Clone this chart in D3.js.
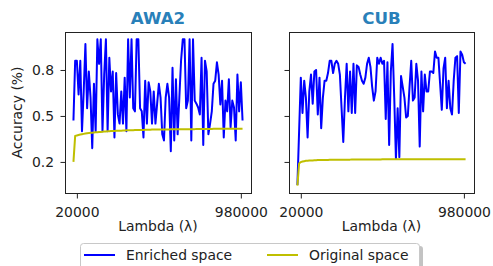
<!DOCTYPE html>
<html>
<head>
<meta charset="utf-8">
<script src="https://cdn.jsdelivr.net/npm/d3@7"></script>
<style>
  body { margin: 0; background: #fff; }
  svg { display: block; }
  text { font-family: "DejaVu Sans", sans-serif; fill: #222; }
</style>
</head>
<body>
<div id="chart"></div>
<script>
// lambda values on the x axis
const lambdas = [
    0, 10000, 20000, 30000, 40000, 50000, 60000, 70000, 80000, 90000,
    100000, 110000, 120000, 130000, 140000, 150000, 160000, 170000, 180000, 190000,
    200000, 210000, 220000, 230000, 240000, 250000, 260000, 270000, 280000, 290000,
    300000, 310000, 320000, 330000, 340000, 350000, 360000, 370000, 380000, 390000,
    400000, 410000, 420000, 430000, 440000, 450000, 460000, 470000, 480000, 490000,
    500000, 510000, 520000, 530000, 540000, 550000, 560000, 570000, 580000, 590000,
    600000, 610000, 620000, 630000, 640000, 650000, 660000, 670000, 680000, 690000,
    700000, 710000, 720000, 730000, 740000, 750000, 760000, 770000, 780000, 790000,
    800000, 810000, 820000, 830000, 840000, 850000, 860000, 870000, 880000, 890000,
    900000, 910000, 920000, 930000, 940000, 950000, 960000, 970000, 980000, 990000
];

const awa2Enriched = [
    0.47, 0.86, 0.86, 0.64, 0.86, 0.40, 0.66, 0.97, 0.55, 0.79,
    0.62, 0.29, 0.71, 0.40, 1.00, 0.84, 1.00, 0.40, 0.77, 1.00,
    0.40, 0.88, 0.66, 0.79, 0.36, 0.78, 0.51, 0.45, 0.66, 0.45,
    0.75, 0.40, 1.00, 0.62, 1.00, 0.55, 0.53, 1.00, 1.00, 0.55,
    0.53, 0.36, 0.73, 0.45, 0.72, 0.66, 0.45, 0.66, 0.45, 0.58,
    0.71, 0.62, 0.38, 0.34, 0.62, 0.71, 0.62, 0.27, 0.815, 0.34,
    0.74, 0.38, 0.62, 0.86, 1.00, 1.00, 0.55, 0.60, 1.00, 0.34,
    1.00, 0.60, 0.58, 0.555, 0.51, 0.88, 0.31, 0.86, 0.79, 0.38,
    0.45, 0.53, 0.71, 0.73, 0.85, 0.77, 0.575, 0.73, 0.36, 0.60,
    0.53, 0.74, 0.425, 0.60, 0.555, 0.34, 0.77, 0.53, 0.72, 0.47
];

const awa2Original = [
    0.200, 0.370, 0.373, 0.376, 0.379, 0.381, 0.383, 0.385, 0.387, 0.388,
    0.390, 0.391, 0.392, 0.393, 0.394, 0.395, 0.396, 0.397, 0.398, 0.399,
    0.400, 0.400, 0.401, 0.402, 0.402, 0.403, 0.403, 0.404, 0.404, 0.405,
    0.405, 0.406, 0.406, 0.407, 0.407, 0.407, 0.408, 0.408, 0.408, 0.409,
    0.409, 0.409, 0.410, 0.410, 0.410, 0.410, 0.411, 0.411, 0.411, 0.411,
    0.411, 0.412, 0.412, 0.412, 0.412, 0.412, 0.412, 0.413, 0.413, 0.413,
    0.413, 0.413, 0.413, 0.413, 0.414, 0.414, 0.414, 0.414, 0.414, 0.414,
    0.414, 0.414, 0.415, 0.415, 0.415, 0.415, 0.415, 0.415, 0.415, 0.415,
    0.415, 0.415, 0.416, 0.416, 0.416, 0.416, 0.416, 0.416, 0.416, 0.416,
    0.416, 0.416, 0.416, 0.417, 0.417, 0.417, 0.417, 0.417, 0.417, 0.417
];

const cubEnriched = [
    0.05, 0.40, 0.75, 0.52, 0.73, 0.62, 0.36, 0.66, 0.77, 0.58,
    0.79, 0.80, 0.51, 0.75, 0.42, 0.62, 0.73, 0.73, 0.78, 0.86,
    0.86, 0.78, 0.84, 0.86, 0.84, 0.77, 0.55, 0.33, 0.62, 0.84,
    0.53, 0.79, 0.52, 0.84, 0.52, 0.83, 0.82, 0.77, 0.73, 0.71,
    0.75, 0.84, 0.88, 0.82, 0.69, 0.60, 0.66, 0.88, 0.84, 0.88,
    0.84, 0.86, 0.48, 0.85, 0.31, 0.79, 0.97, 0.62, 0.22, 0.55,
    0.23, 0.76, 0.69, 0.62, 0.49, 0.50, 0.69, 0.86, 0.60, 0.62,
    0.84, 0.73, 0.30, 0.79, 0.53, 0.77, 0.66, 0.66, 0.79, 0.79,
    0.78, 0.92, 0.88, 0.88, 0.71, 0.54, 0.81, 0.88, 0.55, 0.73,
    0.55, 0.51, 0.73, 0.88, 0.89, 0.52, 0.92, 0.90, 0.85, 0.84
];

const cubOriginal = [
    0.045, 0.190, 0.199, 0.203, 0.205, 0.207, 0.208, 0.209, 0.210, 0.210,
    0.211, 0.211, 0.212, 0.212, 0.212, 0.213, 0.213, 0.213, 0.213, 0.214,
    0.214, 0.214, 0.214, 0.214, 0.215, 0.215, 0.215, 0.215, 0.215, 0.215,
    0.215, 0.215, 0.216, 0.216, 0.216, 0.216, 0.216, 0.216, 0.216, 0.216,
    0.216, 0.216, 0.216, 0.216, 0.216, 0.216, 0.216, 0.216, 0.216, 0.216,
    0.217, 0.217, 0.217, 0.217, 0.217, 0.217, 0.217, 0.217, 0.217, 0.217,
    0.217, 0.217, 0.217, 0.217, 0.217, 0.217, 0.217, 0.217, 0.217, 0.217,
    0.217, 0.217, 0.217, 0.217, 0.217, 0.217, 0.217, 0.217, 0.217, 0.217,
    0.217, 0.217, 0.217, 0.217, 0.217, 0.217, 0.217, 0.217, 0.217, 0.217,
    0.217, 0.217, 0.217, 0.217, 0.217, 0.217, 0.217, 0.217, 0.217, 0.217
];

const datasets = ["AWA2", "CUB"];
const seriesNames = ["Enriched space", "Original space"];
const xTicks = [20000, 980000];
const yTicks = [0.2, 0.5, 0.8];

function drawChart() {
    var width = 493, height = 266;
    var top = 32, bottom = 193;
    var colors = ["#0000ff", "#bfbf00"];
    var panels = [
        { left: 65, right: 251, series: [awa2Enriched, awa2Original], yLabels: true },
        { left: 289, right: 474, series: [cubEnriched, cubOriginal], yLabels: false }
    ];

    var svg = d3.select("#chart").append("svg")
        .attr("width", width)
        .attr("height", height);

    // shared y range with matplotlib style 5% margins
    var all = awa2Enriched.concat(awa2Original, cubEnriched, cubOriginal);
    var ext = d3.extent(all);
    var ypad = (ext[1] - ext[0]) * 0.05;
    var y = d3.scaleLinear().domain([ext[0] - ypad, ext[1] + ypad]).range([bottom, top]);

    var xext = d3.extent(lambdas);
    var xpad = (xext[1] - xext[0]) * 0.05;

    panels.forEach(function (p, k) {
        var x = d3.scaleLinear().domain([xext[0] - xpad, xext[1] + xpad]).range([p.left, p.right]);
        var g = svg.append("g");

        var line = d3.line()
            .x(function (d, i) { return x(lambdas[i]); })
            .y(function (d) { return y(d); });

        p.series.forEach(function (s, j) {
            g.append("path")
                .datum(s)
                .attr("fill", "none")
                .attr("stroke", colors[j])
                .attr("stroke-width", 2)
                .attr("stroke-linejoin", "round")
                .attr("d", line);
        });

        // axes box
        g.append("rect")
            .attr("x", p.left + 0.5)
            .attr("y", top + 0.5)
            .attr("width", p.right - p.left)
            .attr("height", bottom - top)
            .attr("fill", "none")
            .attr("stroke", "#222")
            .attr("stroke-width", 1);

        var yAxis = d3.axisLeft(y)
            .tickValues(yTicks)
            .tickSize(5)
            .tickPadding(6.5)
            .tickFormat(p.yLabels ? d3.format(".1f") : "");
        var ya = g.append("g")
            .attr("transform", "translate(" + (p.left + 0.5) + ",0)")
            .call(yAxis);
        ya.select(".domain").remove();
        ya.selectAll("line").attr("stroke", "#222");
        ya.selectAll("text")
            .attr("font-family", "DejaVu Sans")
            .attr("font-size", "13.9px")
            .attr("fill", "#222")
            .attr("dy", "0.36em");

        var xAxis = d3.axisBottom(x)
            .tickValues(xTicks)
            .tickSize(5)
            .tickFormat(d3.format("d"));
        var xa = g.append("g")
            .attr("transform", "translate(0," + (bottom + 0.5) + ")")
            .call(xAxis);
        xa.select(".domain").remove();
        xa.selectAll("line").attr("stroke", "#222");
        xa.selectAll("text")
            .attr("font-family", "DejaVu Sans")
            .attr("font-size", "13.9px")
            .attr("fill", "#222")
            .attr("y", 23.5)
            .attr("dy", 0);

        var cx = (p.left + p.right) / 2;
        g.append("text")
            .attr("x", cx)
            .attr("y", 24)
            .attr("text-anchor", "middle")
            .attr("font-size", "16.7px")
            .attr("font-weight", "bold")
            .style("fill", "#2980b9")
            .text(datasets[k]);

        g.append("text")
            .attr("x", cx)
            .attr("y", 231)
            .attr("text-anchor", "middle")
            .attr("font-size", "13.9px")
            .text("Lambda (λ)");

        if (p.yLabels) {
            g.append("text")
                .attr("transform", "translate(22," + ((top + bottom) / 2) + ") rotate(-90)")
                .attr("text-anchor", "middle")
                .attr("font-size", "13.9px")
                .text("Accuracy (%)");
        }
    });

    // legend below both panels
    var lg = svg.append("g");
    lg.append("rect")
        .attr("x", 83).attr("y", 246)
        .attr("width", 340).attr("height", 30)
        .attr("rx", 3)
        .attr("fill", "#888").attr("opacity", 0.5);
    lg.append("rect")
        .attr("x", 80.5).attr("y", 243.5)
        .attr("width", 339).attr("height", 30)
        .attr("rx", 3)
        .attr("fill", "#fff")
        .attr("stroke", "#c8c8c8");

    var items = lg.selectAll(".item")
        .data(seriesNames)
        .enter()
        .append("g")
        .attr("class", "item")
        .attr("transform", function (d, i) {
            return "translate(" + (i === 0 ? 84 : 267) + ",255)";
        });
    items.append("line")
        .attr("x1", 0).attr("x2", 31)
        .attr("stroke", function (d, i) { return colors[i]; })
        .attr("stroke-width", 2);
    items.append("text")
        .attr("x", 42)
        .attr("y", 5)
        .attr("font-size", "13.9px")
        .text(function (d) { return d; });
}

window.addEventListener('load', function () {
    drawChart();
});
</script>
</body>
</html>
